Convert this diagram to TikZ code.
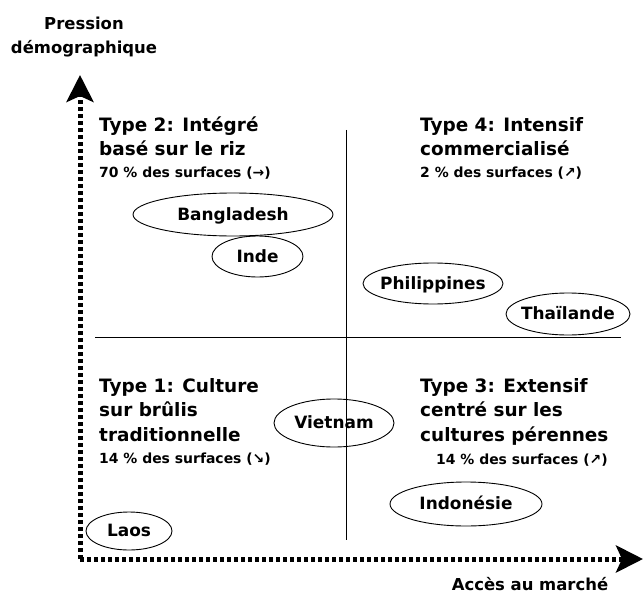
\documentclass[tikz,border=0pt]{standalone}
\usepackage{fontspec}
\setmainfont{DejaVu Sans}
\usetikzlibrary{arrows.meta}
\begin{document}
\begin{tikzpicture}[x=1bp,y=-1bp,
  head/.style={font=\fontsize{18.5}{22}\selectfont\bfseries, anchor=base west, inner sep=0},
  share/.style={font=\fontsize{14}{16}\selectfont\bfseries, anchor=base west, inner sep=0},
  axislbl/.style={font=\fontsize{16.5}{20}\selectfont\bfseries, anchor=base, inner sep=0},
  country/.style={font=\fontsize{17}{20}\selectfont\bfseries, inner sep=0, text height=11bp, text depth=0bp},
  ring/.style={line width=0.9bp},
  axis/.style={line width=5bp, dash pattern=on 4bp off 3bp,
    -{Stealth[length=27bp, width=27bp, inset=6bp]}},
  quad/.style={line width=0.8bp}]
\useasboundingbox (0,0) rectangle (644,597);

% axes
\coordinate (O) at (80,559);
\coordinate (ytip) at (80,75);
\coordinate (xtip) at (643,559);
\draw[axis] (O) -- (ytip);
\draw[axis] (O) -- (xtip);
\node[axislbl] (ylbl1) at (84,30) {Pression};
\node[axislbl] (ylbl2) at (84,54) {démographique};
\node[axislbl] (xlbl) at (530,590) {Accès au marché};

% quadrant dividers
\coordinate (vtop) at (346,130);
\coordinate (vbot) at (346,540);
\coordinate (hleft) at (95,337);
\coordinate (hright) at (621,337);
\draw[quad] (vtop) -- (vbot);
\draw[quad] (hleft) -- (hright);

% type 2
\node[head] (t2a) at (99,132) {Type 2: Intégré};
\node[head] (t2b) at (99,156) {basé sur le riz};
\node[share] (t2c) at (99,178) {70 \% des surfaces (→)};
% type 4
\node[head] (t4a) at (420,132) {Type 4: Intensif};
\node[head] (t4b) at (420,156) {commercialisé};
\node[share] (t4c) at (420,178) {2 \% des surfaces (↗)};
% type 1
\node[head] (t1a) at (99,392) {Type 1: Culture};
\node[head] (t1b) at (99,416.5) {sur brûlis};
\node[head] (t1c) at (99,441) {traditionnelle};
\node[share] (t1d) at (99,463) {14 \% des surfaces (↘)};
% type 3
\node[head] (t3a) at (420,392) {Type 3: Extensif};
\node[head] (t3b) at (420,416.5) {centré sur les};
\node[head] (t3c) at (420,441) {cultures pérennes};
\node[share] (t3d) at (436,464) {14 \% des surfaces (↗)};

% countries
\node[country] (bd) at (233,214.5) {Bangladesh};
\draw[ring] (bd.center) ellipse [x radius=100, y radius=21.5];
\node[country] (in) at (257.5,256.5) {Inde};
\draw[ring] (in.center) ellipse [x radius=45.5, y radius=20.5];
\node[country] (ph) at (433,283.5) {Philippines};
\draw[ring] (ph.center) ellipse [x radius=70, y radius=20.5];
\node[country] (th) at (568,314) {Thaïlande};
\draw[ring] (th.center) ellipse [x radius=62, y radius=21];
\node[country] (vn) at (334,423) {Vietnam};
\draw[ring] (vn.center) ellipse [x radius=60, y radius=24];
\node[country] (id) at (466,504) {Indonésie};
\draw[ring] (id.center) ellipse [x radius=76, y radius=22];
\node[country] (la) at (129,531) {Laos};
\draw[ring] (la.center) ellipse [x radius=43, y radius=19];
\end{tikzpicture}
\end{document}
